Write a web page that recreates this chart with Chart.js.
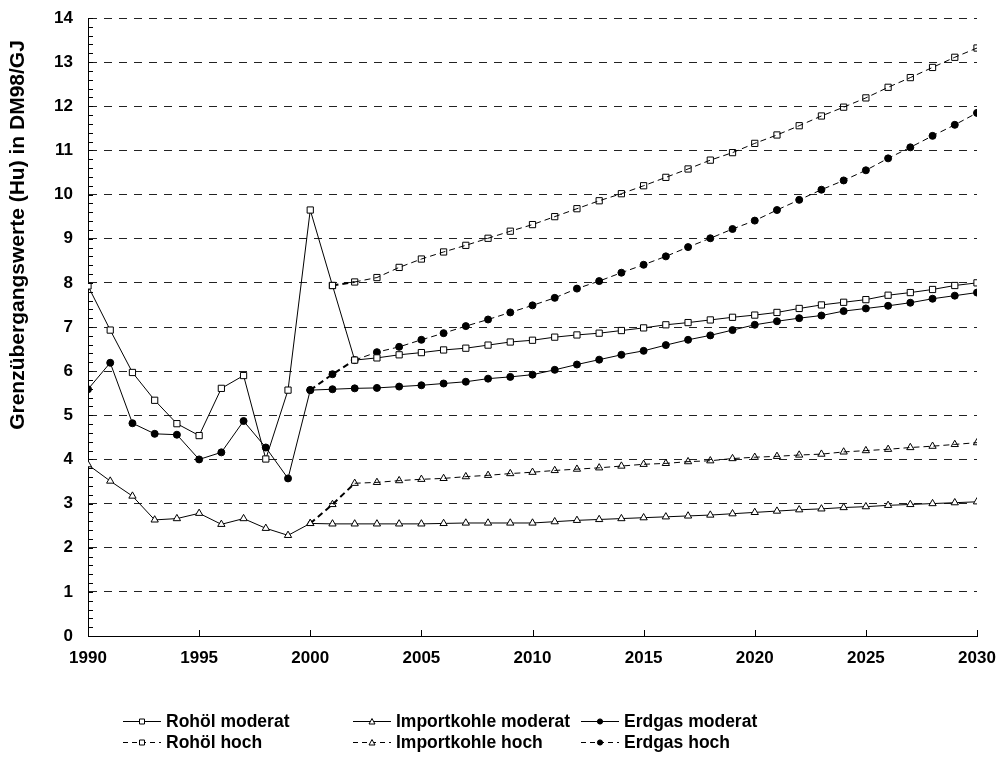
<!DOCTYPE html>
<html>
<head>
<meta charset="utf-8">
<script src="https://cdn.jsdelivr.net/npm/chart.js@4.4.0/dist/chart.umd.min.js"></script>
<style>
  html, body { margin: 0; padding: 0; background: #fff; }
  #wrap { width: 1001px; height: 760px; }
</style>
</head>
<body>
<div id="wrap"><canvas id="chart" width="1001" height="760"></canvas></div>
<script>
// Jahre
const jahre = [1990, 1991, 1992, 1993, 1994, 1995, 1996, 1997, 1998, 1999,
  2000, 2001, 2002, 2003, 2004, 2005, 2006, 2007, 2008, 2009,
  2010, 2011, 2012, 2013, 2014, 2015, 2016, 2017, 2018, 2019,
  2020, 2021, 2022, 2023, 2024, 2025, 2026, 2027, 2028, 2029, 2030];

// Rohöl
const rohoelModerat = [7.93, 6.93, 5.97, 5.34, 4.81, 4.54, 5.61, 5.90, 4.01, 5.57,
  9.65, 7.94, 6.25, 6.30, 6.37, 6.42, 6.48, 6.52, 6.59, 6.66,
  6.70, 6.77, 6.82, 6.86, 6.92, 6.98, 7.05, 7.10, 7.16, 7.22,
  7.27, 7.33, 7.42, 7.50, 7.56, 7.62, 7.72, 7.78, 7.85, 7.94, 8.00];
const rohoelHoch = [null, null, null, null, null, null, null, null, null, null,
  null, 7.94, 8.02, 8.12, 8.35, 8.54, 8.70, 8.85, 9.01, 9.17,
  9.32, 9.50, 9.68, 9.86, 10.02, 10.20, 10.39, 10.58, 10.78, 10.95,
  11.16, 11.35, 11.56, 11.78, 11.98, 12.19, 12.43, 12.65, 12.88, 13.11, 13.32];

// Importkohle
const kohleModerat = [3.88, 3.51, 3.17, 2.63, 2.66, 2.78, 2.53, 2.66, 2.44, 2.28,
  2.55, 2.54, 2.54, 2.54, 2.54, 2.54, 2.55, 2.56, 2.56, 2.56,
  2.56, 2.59, 2.62, 2.64, 2.66, 2.68, 2.70, 2.72, 2.74, 2.77,
  2.80, 2.83, 2.86, 2.88, 2.91, 2.93, 2.96, 2.98, 3.00, 3.02, 3.04];
const kohleHoch = [null, null, null, null, null, null, null, null, null, null,
  2.55, 2.98, 3.46, 3.48, 3.52, 3.55, 3.57, 3.61, 3.64, 3.68,
  3.71, 3.75, 3.78, 3.81, 3.85, 3.89, 3.91, 3.95, 3.97, 4.02,
  4.05, 4.07, 4.10, 4.12, 4.17, 4.20, 4.23, 4.27, 4.30, 4.34, 4.38];

// Erdgas
const erdgasModerat = [5.59, 6.19, 4.82, 4.58, 4.56, 4.00, 4.16, 4.87, 4.27, 3.57,
  5.57, 5.59, 5.61, 5.62, 5.65, 5.68, 5.72, 5.76, 5.83, 5.87,
  5.92, 6.03, 6.15, 6.26, 6.37, 6.46, 6.59, 6.71, 6.81, 6.93,
  7.05, 7.13, 7.20, 7.26, 7.36, 7.42, 7.48, 7.55, 7.64, 7.71, 7.78];
const erdgasHoch = [null, null, null, null, null, null, null, null, null, null,
  5.57, 5.93, 6.25, 6.43, 6.55, 6.71, 6.86, 7.02, 7.17, 7.33,
  7.49, 7.66, 7.87, 8.04, 8.23, 8.41, 8.60, 8.81, 9.01, 9.22,
  9.41, 9.65, 9.88, 10.11, 10.32, 10.55, 10.82, 11.07, 11.33, 11.58, 11.85];

const FONT = "'Liberation Sans', Arial, sans-serif";

function punkte(werte) {
  return jahre.map((j, i) => ({ x: j, y: werte[i] }));
}

// Serie: label, daten, markerform, gestrichelt?
function serie(label, werte, form, hoch) {
  const gefuellt = form === "circle";
  return {
    label: label,
    data: punkte(werte),
    borderColor: "#000",
    borderWidth: 1,
    borderDash: hoch ? [6, 4] : [],
    pointStyle: form,
    pointRadius: form === "circle" ? 3.5 : (form === "rect" ? 4.4 : 4.2),
    pointBorderWidth: 1,
    pointBorderColor: "#000",
    pointBackgroundColor: gefuellt ? "#000" : (hoch ? "rgba(0,0,0,0)" : "#fff"),
    pointHoverRadius: 4,
    spanGaps: false,
    tension: 0,
    segment: hoch ? { borderWidth: (c) => (c.p0.parsed.x < 2002 ? 2 : 1) } : undefined,
  };
}

const datasets = [
  serie("Rohöl moderat", rohoelModerat, "rect", false),
  serie("Importkohle moderat", kohleModerat, "triangle", false),
  serie("Erdgas moderat", erdgasModerat, "circle", false),
  serie("Rohöl hoch", rohoelHoch, "rect", true),
  serie("Importkohle hoch", kohleHoch, "triangle", true),
  serie("Erdgas hoch", erdgasHoch, "circle", true),
];

// kleine Marker für die Legende
function marker(ctx, form, x, y, fill) {
  ctx.beginPath();
  if (form === "rect") {
    ctx.rect(x - 2.5, y - 2.5, 5, 5);
  } else if (form === "triangle") {
    ctx.moveTo(x, y - 3);
    ctx.lineTo(x + 3, y + 2.5);
    ctx.lineTo(x - 3, y + 2.5);
    ctx.closePath();
  } else {
    ctx.arc(x, y, 2.6, 0, Math.PI * 2);
  }
  ctx.fillStyle = fill;
  ctx.fill();
  ctx.stroke();
}

const extras = {
  id: "extras",
  afterDraw(chart) {
    const { ctx, chartArea: a, scales } = chart;
    const x = scales.x, y = scales.y;
    ctx.save();
    ctx.strokeStyle = "#000";
    ctx.lineWidth = 1;
    ctx.setLineDash([]);

    // Teilstriche nach innen
    ctx.beginPath();
    for (let i = 0; i <= 70; i++) {
      const py = Math.round(y.getPixelForValue(i / 5)) + 0.5;
      ctx.moveTo(a.left, py);
      ctx.lineTo(a.left + 5, py);
    }
    x.ticks.forEach((t) => {
      const px = Math.round(x.getPixelForValue(t.value)) + 0.5;
      ctx.moveTo(px, a.bottom);
      ctx.lineTo(px, a.bottom - 6);
    });
    ctx.stroke();

    // Achsentitel
    ctx.save();
    ctx.translate(18, 235);
    ctx.rotate(-Math.PI / 2);
    ctx.fillStyle = "#000";
    ctx.font = "bold 21px " + FONT;
    ctx.textAlign = "center";
    ctx.textBaseline = "middle";
    ctx.fillText("Grenzübergangswerte (Hu) in DM98/GJ", 0, 0);
    ctx.restore();

    // Legende 3 Spalten x 2 Zeilen
    const spalten = [123, 353, 581];
    const zeilen = [721, 742];
    ctx.font = "bold 17.5px " + FONT;
    ctx.textBaseline = "middle";
    ctx.textAlign = "left";
    chart.data.datasets.forEach((ds, i) => {
      const sx = spalten[i % 3];
      const sy = zeilen[Math.floor(i / 3)];
      ctx.strokeStyle = "#000";
      ctx.lineWidth = 1;
      ctx.setLineDash(ds.borderDash.length ? [5, 4] : []);
      ctx.beginPath();
      ctx.moveTo(sx, sy + 0.5);
      ctx.lineTo(sx + 38, sy + 0.5);
      ctx.stroke();
      ctx.setLineDash([]);
      marker(ctx, ds.pointStyle, sx + 19, sy + 0.5, ds.pointStyle === "circle" ? "#000" : "#fff");
      ctx.fillStyle = "#000";
      ctx.fillText(ds.label, sx + 43, sy + 1);
    });
    ctx.restore();
  },
};

new Chart(document.getElementById("chart"), {
  type: "line",
  data: { datasets: datasets },
  plugins: [extras],
  options: {
    responsive: false,
    animation: false,
    layout: { padding: { top: 18, right: 24, left: 0, bottom: 0 } },
    plugins: { legend: { display: false }, tooltip: { enabled: false } },
    scales: {
      x: {
        type: "linear",
        min: 1990,
        max: 2030,
        ticks: {
          stepSize: 5,
          color: "#000",
          padding: 12,
          font: { family: FONT, size: 17, weight: "bold" },
          callback: (v) => String(v),
          maxRotation: 0,
        },
        grid: { display: false, drawTicks: false },
        border: { display: true, color: "#000", width: 1 },
        afterFit: (s) => {
          s.height = 124;
          s.paddingLeft = 0; s.paddingRight = 0;
        },
      },
      y: {
        min: 0,
        max: 14,
        ticks: {
          stepSize: 1,
          color: "#000",
          padding: 15,
          font: { family: FONT, size: 17, weight: "bold" },
        },
        grid: { color: "#222", lineWidth: 1, drawTicks: false },
        border: { display: true, color: "#000", width: 1, dash: [8, 7] },
        afterFit: (s) => {
          s.width = 88;
          s.paddingTop = 0; s.paddingBottom = 0;
        },
      },
    },
  },
});
</script>
</body>
</html>
